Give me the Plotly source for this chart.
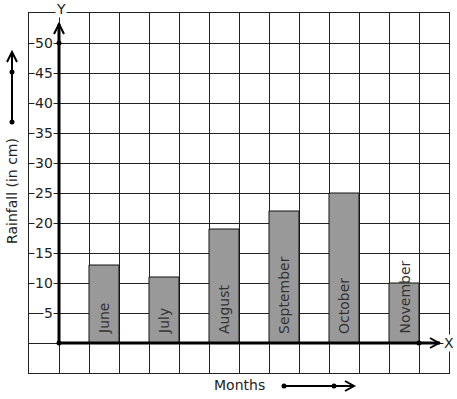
import plotly.graph_objects as go

months = ["June", "July", "August", "September", "October", "November"]
rainfall = [13, 11, 19, 22, 25, 10]
y_ticks = [5, 10, 15, 20, 25, 30, 35, 40, 45, 50]

W, H = 457, 399
L, R, T, B = 29, 8, 13, 26
PW, PH = W - L - R, H - T - B

def px(x):
    return (x - L) / PW

def py(y):
    return (H - B - y) / PH

xc = [2 * i + 1.5 for i in range(len(months))]

fig = go.Figure()
fig.add_trace(go.Bar(
    x=xc, y=rainfall, width=1,
    marker=dict(color="#999999", line=dict(color="#111", width=1)),
    hoverinfo="skip",
))

FONT = "DejaVu Sans"
FS = 14
ann = []
for x, m in zip(xc, months):
    ann.append(dict(x=x, y=0, text=m, textangle=-90, showarrow=False,
                    xanchor="center", yanchor="bottom", yshift=7,
                    font=dict(family=FONT, size=FS, color="#333")))
for v in y_ticks:
    ann.append(dict(x=-0.18, y=v, text=str(v), showarrow=False, xanchor="right",
                    yanchor="middle", bgcolor="white", borderpad=0,
                    font=dict(family=FONT, size=FS, color="#222")))
ann.append(dict(x=px(61), y=py(9), xref="paper", yref="paper", text="Y", showarrow=False,
                xanchor="center", yanchor="middle", bgcolor="white", borderpad=0,
                font=dict(family=FONT, size=FS, color="#222")))
ann.append(dict(x=px(449), y=py(343), xref="paper", yref="paper", text="X", showarrow=False,
                xanchor="center", yanchor="middle", bgcolor="white", borderpad=0,
                font=dict(family=FONT, size=FS, color="#222")))
ann.append(dict(x=px(12), y=py(191), xref="paper", yref="paper", text="Rainfall (in cm)",
                textangle=-90, showarrow=False, xanchor="center", yanchor="middle",
                font=dict(family=FONT, size=FS, color="#222")))
ann.append(dict(x=px(239), y=py(385), xref="paper", yref="paper", text="Months",
                showarrow=False, xanchor="center", yanchor="middle",
                font=dict(family=FONT, size=FS, color="#222")))

shapes = []
# axes
shapes.append(dict(type="line", x0=0, y0=0, x1=12.7, y1=0, xref="x", yref="y",
                   line=dict(color="black", width=3), layer="above"))
shapes.append(dict(type="line", x0=0, y0=0, x1=0, y1=53.2, xref="x", yref="y",
                   line=dict(color="black", width=3), layer="above"))

def chevron(tip, a, b, w=2):
    return dict(type="path", xref="paper", yref="paper",
                path=f"M {px(a[0])},{py(a[1])} L {px(tip[0])},{py(tip[1])} L {px(b[0])},{py(b[1])}",
                line=dict(color="black", width=w), layer="above")

def line_px(x0, y0, x1, y1, w=2):
    return dict(type="line", xref="paper", yref="paper", x0=px(x0), y0=py(y0), x1=px(x1), y1=py(y1),
                line=dict(color="black", width=w), layer="above")

def dot(x, y, r=2.5):
    return dict(type="circle", xref="paper", yref="paper", x0=px(x - r), x1=px(x + r),
                y0=py(y + r), y1=py(y - r), fillcolor="black", line=dict(color="black", width=0),
                layer="above")

shapes.append(chevron((59, 24), (54, 34), (64, 34)))
shapes.append(chevron((439, 343), (430, 338), (430, 348)))
dots = [(59, 343), (59, 43), (419, 343)]
# left arrow
shapes.append(line_px(12, 122, 12, 53, 2))
shapes.append(chevron((12, 52), (7, 62), (17, 62)))
dots += [(12, 122), (12, 72)]
# months arrow
shapes.append(line_px(284, 386, 353, 386, 2))
shapes.append(chevron((354, 386), (345, 381), (345, 391)))
dots += [(284, 386), (334, 386)]
for d in dots:
    shapes.append(dot(*d))

fig.update_layout(
    width=W, height=H, margin=dict(l=L, r=R, t=T, b=B),
    paper_bgcolor="white", plot_bgcolor="white", showlegend=False,
    annotations=ann, shapes=shapes,
    xaxis=dict(range=[-1, 13], tick0=0, dtick=1, showgrid=True, gridcolor="#222", gridwidth=1,
               zeroline=False, showticklabels=False, ticks="", showline=True, mirror=True,
               linecolor="#222", linewidth=1, fixedrange=True),
    yaxis=dict(range=[-5, 55], tick0=0, dtick=5, showgrid=True, gridcolor="#222", gridwidth=1,
               zeroline=False, showticklabels=False, ticks="", showline=True, mirror=True,
               linecolor="#222", linewidth=1, fixedrange=True),
)
fig.write_html("out.html", config={"displayModeBar": False})

with open("out.html", encoding="utf-8") as f:
    html = f.read()
html = html.replace("<head>", "<head><style>html,body{margin:0;padding:0;overflow:hidden;}</style>", 1)
with open("out.html", "w", encoding="utf-8") as f:
    f.write(html)
